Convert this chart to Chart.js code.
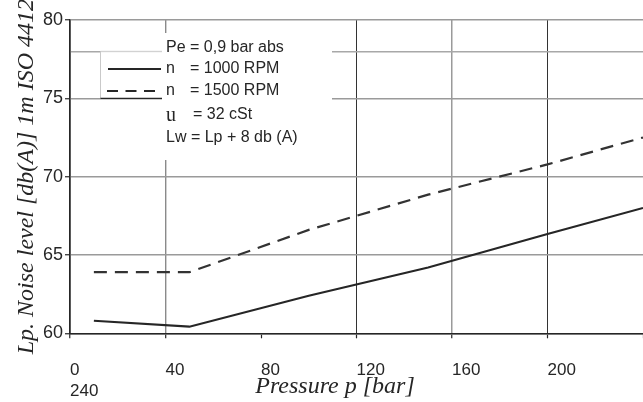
<!DOCTYPE html>
<html><head><meta charset="utf-8">
<script src="https://cdn.jsdelivr.net/npm/chart.js@4"></script>
<style>html,body{margin:0;padding:0;background:#fff}#wrap{width:643px;height:402px;position:relative}</style>
</head><body><div id="wrap"><canvas id="c" width="643" height="402"></canvas></div>
<script>
// ---- data ----
const pressure   = [10, 50, 100, 150, 200, 240];
const noise1000  = [60.8, 60.42, 62.4, 64.2, 66.34, 68.0];
const noise1500  = [63.9, 63.9, 66.6, 68.85, 70.78, 72.5];
const xTickValues = [0, 40, 80, 120, 160, 200, 240];
const xTickLabels = ['0', '40', '80', '120', '160', '200', '240'];
const yTickValues = [60, 65, 70, 75, 78, 80];
const yTickLabels = ['60', '65', '70', '75', '', '80'];
const seriesNames = ['n = 1000 RPM', 'n = 1500 RPM'];
const noteLead = ['Pe = 0,9 bar abs', 'n', 'n', 'u', 'Lw = Lp + 8 db (A)'];
const noteRest = ['', '= 1000 RPM', '= 1500 RPM', '= 32 cSt', ''];
const xTitle = 'Pressure p [bar]';
const yTitle = 'Lp. Noise level [db(A)] 1m ISO 4412';

const INK = '#262626';
const GRID = '#9a9a9a';
const sans = "'Liberation Sans', Arial, sans-serif";
const serif = "'Liberation Serif', 'Times New Roman', serif";

const vGridColor = {0: INK, 40: '#8a8a8a', 80: 'rgba(0,0,0,0)', 120: '#333', 160: GRID, 200: '#333', 240: GRID};
const vGridWidth = {0: 1.5, 40: 1.4, 80: 1, 120: 1, 160: 1.5, 200: 1, 240: 1};

const notesPlugin = {
  id: 'notes',
  beforeDatasetsDraw(chart) {
    const ctx = chart.ctx;
    const y = chart.scales.y;
    const y78 = y.getPixelForValue(78), y75 = y.getPixelForValue(75);
    ctx.save();
    // text box background
    ctx.fillStyle = '#ffffff';
    ctx.fillRect(162, 33, 170, 127);
    // legend frame
    ctx.fillRect(101, y78 - 1.5, 61, 3);
    ctx.lineCap = 'butt';
    ctx.strokeStyle = '#c9c9c9'; ctx.lineWidth = 1;
    ctx.beginPath(); ctx.moveTo(100.5, y78); ctx.lineTo(162, y78); ctx.stroke();
    ctx.beginPath(); ctx.moveTo(100.5, y78); ctx.lineTo(100.5, y75); ctx.stroke();
    ctx.strokeStyle = INK; ctx.lineWidth = 1.2;
    ctx.beginPath(); ctx.moveTo(100.5, y75); ctx.lineTo(162, y75); ctx.stroke();
    // legend samples
    ctx.strokeStyle = INK; ctx.lineWidth = 2.2;
    ctx.beginPath(); ctx.moveTo(108, 69); ctx.lineTo(161, 69); ctx.stroke();
    ctx.setLineDash([11, 7.5]);
    ctx.beginPath(); ctx.moveTo(107, 91); ctx.lineTo(159, 91); ctx.stroke();
    ctx.setLineDash([]);
    // note text
    ctx.fillStyle = INK;
    ctx.textBaseline = 'middle';
    ctx.textAlign = 'left';
    const ys = [47.5, 69, 90.5, 115, 138];
    const restX = [0, 190, 190, 193, 0];
    for (let i = 0; i < noteLead.length; i++) {
      ctx.font = (i === 3 ? '20px ' + serif : '16px ' + sans);
      ctx.fillText(noteLead[i], 166, ys[i] + (i === 3 ? 1 : 0));
      if (noteRest[i]) {
        ctx.font = '16px ' + sans;
        ctx.fillText(noteRest[i], restX[i], ys[i]);
      }
    }
    ctx.restore();
  },
  afterDraw(chart) {
    const ctx = chart.ctx;
    ctx.save();
    ctx.fillStyle = INK;
    ctx.font = 'italic 24px ' + serif;
    ctx.textAlign = 'center';
    ctx.textBaseline = 'alphabetic';
    ctx.fillText(xTitle, 335, 393);
    ctx.restore();
  }
};

new Chart(document.getElementById('c'), {
  type: 'line',
  data: {
    datasets: [
      {
        label: seriesNames[0],
        data: pressure.map((p, i) => ({x: p, y: noise1000[i]})),
        borderColor: INK, borderWidth: 2.2, pointRadius: 0, tension: 0, fill: false
      },
      {
        label: seriesNames[1],
        data: pressure.map((p, i) => ({x: p, y: noise1500[i]})),
        borderColor: '#333', borderWidth: 2.2, borderDash: [13, 8], pointRadius: 0, tension: 0, fill: false
      }
    ]
  },
  options: {
    responsive: false,
    devicePixelRatio: 1,
    animation: false,
    layout: {padding: {top: 20, right: 0, left: 0, bottom: 0}},
    plugins: {legend: {display: false}, tooltip: {enabled: false}, title: {display: false}},
    scales: {
      x: {
        type: 'linear', min: 0, max: 240,
        afterBuildTicks: s => { s.ticks = xTickValues.map(v => ({value: v})); },
        afterFit: s => { s.height = 68.7; s.paddingRight = 0; s.paddingLeft = 0; },
        ticks: {
          align: 'start', padding: 22, color: INK,
          font: {family: sans, size: 17, lineHeight: '21px'},
          callback: (v) => {
            const i = xTickValues.indexOf(v);
            if (i === 0) return [xTickLabels[0], xTickLabels[xTickLabels.length - 1]];
            if (i === xTickValues.length - 1) return '';
            return xTickLabels[i];
          }
        },
        grid: {
          color: c => vGridColor[c.tick ? c.tick.value : 0] || GRID,
          lineWidth: c => vGridWidth[c.tick ? c.tick.value : 0] || 1,
          tickColor: INK, tickLength: 5, tickWidth: 1.2
        },
        border: {color: INK, width: 1.5}
      },
      y: {
        type: 'linear', min: 60, max: 80,
        afterBuildTicks: s => { s.ticks = yTickValues.map(v => ({value: v})); },
        afterFit: s => { s.width = 70; s.paddingTop = 0; s.paddingBottom = 0; },
        ticks: {
          padding: 2, color: INK,
          font: {family: sans, size: 18},
          callback: (v) => yTickLabels[yTickValues.indexOf(v)]
        },
        grid: {
          color: c => (c.tick && c.tick.value === 78) ? '#a8a8a8' : GRID,
          lineWidth: 1.5,
          tickColor: c => (c.tick && c.tick.value === 78) ? 'rgba(0,0,0,0)' : INK,
          tickLength: 5, tickWidth: 1.2
        },
        border: {color: INK, width: 1.5},
        title: {
          display: true, text: yTitle, color: INK,
          font: {family: serif, style: 'italic', size: 24},
          padding: {top: 12, bottom: 0}
        }
      }
    }
  },
  plugins: [notesPlugin]
});
</script>
</body></html>
